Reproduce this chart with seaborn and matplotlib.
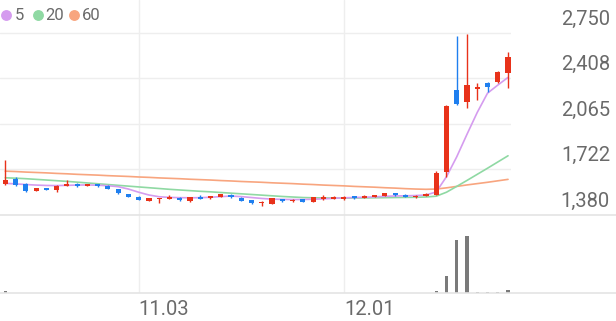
import matplotlib
matplotlib.use("Agg")
import matplotlib.pyplot as plt
from matplotlib.lines import Line2D
import numpy as np
import pandas as pd
import seaborn as sns

# ---------------- data ----------------
opens = [1613, 1649, 1611, 1561, 1578, 1566, 1598, 1611, 1596, 1608,
         1598, 1573, 1533, 1513, 1485, 1498, 1500, 1508, 1480, 1513,
         1505, 1513, 1530, 1508, 1490, 1463, 1460, 1498, 1480, 1495,
         1473, 1495, 1498, 1498, 1520, 1508, 1515, 1518, 1540, 1530,
         1510, 1520, 1530, 1698, 2321, 2230, 2326, 2371, 2381, 2446]
highs = [1794, 1664, 1614, 1580, 1581, 1600, 1641, 1614, 1611, 1611,
         1600, 1576, 1536, 1516, 1508, 1508, 1525, 1510, 1512, 1530,
         1520, 1538, 1533, 1510, 1493, 1483, 1505, 1500, 1496, 1497,
         1512, 1530, 1520, 1518, 1523, 1528, 1528, 1545, 1543, 1532,
         1525, 1540, 1706, 2205, 2727, 2740, 2374, 2376, 2464, 2609]
lows = [1606, 1598, 1553, 1558, 1563, 1553, 1595, 1590, 1593, 1590,
        1573, 1537, 1512, 1490, 1483, 1465, 1495, 1485, 1478, 1495,
        1495, 1510, 1508, 1483, 1462, 1442, 1458, 1478, 1478, 1476,
        1471, 1493, 1496, 1490, 1500, 1505, 1513, 1516, 1523, 1510,
        1508, 1518, 1528, 1661, 2206, 2183, 2243, 2301, 2375, 2334]
closes = [1643, 1604, 1561, 1578, 1566, 1598, 1611, 1593, 1608, 1593,
          1576, 1540, 1515, 1493, 1506, 1506, 1515, 1488, 1510, 1498,
          1518, 1536, 1510, 1485, 1465, 1473, 1503, 1480, 1493, 1478,
          1510, 1510, 1513, 1513, 1503, 1523, 1525, 1543, 1525, 1513,
          1523, 1538, 1691, 2200, 2213, 2358, 2338, 2343, 2457, 2571]
volumes = [250000, 40000, 40000, 30000, 30000, 30000, 40000, 30000, 30000, 30000,
           30000, 30000, 30000, 30000, 30000, 30000, 30000, 30000, 30000, 30000,
           30000, 30000, 30000, 30000, 30000, 30000, 30000, 30000, 30000, 30000,
           30000, 30000, 30000, 30000, 30000, 30000, 30000, 30000, 30000, 30000,
           30000, 30000, 200000, 1800000, 5400000, 5800000, 150000, 100000, 100000, 340000]
ma5 = [1615, 1611, 1606, 1602, 1599, 1598, 1600, 1602, 1603, 1601,
       1597, 1590, 1572, 1548, 1527, 1514, 1509, 1507, 1506, 1507,
       1510, 1515, 1519, 1515, 1508, 1501, 1496, 1494, 1493, 1493,
       1495, 1498, 1502, 1506, 1508, 1510, 1513, 1517, 1520, 1521,
       1523, 1527, 1550, 1665, 1815, 1985, 2150, 2295, 2356, 2414]
ma20 = [1657, 1654, 1650, 1645, 1640, 1635, 1630, 1624, 1618, 1612,
        1606, 1600, 1594, 1588, 1582, 1576, 1570, 1565, 1560, 1555,
        1551, 1546, 1541, 1536, 1531, 1526, 1521, 1516, 1512, 1508,
        1506, 1505, 1504, 1504, 1504, 1505, 1506, 1507, 1508, 1509,
        1510, 1512, 1518, 1548, 1592, 1637, 1683, 1729, 1776, 1823]
ma60 = [1707, 1704, 1700, 1697, 1694, 1690, 1687, 1683, 1680, 1677,
        1673, 1670, 1667, 1663, 1660, 1656, 1653, 1650, 1646, 1643,
        1640, 1636, 1633, 1629, 1626, 1623, 1619, 1616, 1613, 1609,
        1606, 1602, 1599, 1596, 1592, 1589, 1586, 1582, 1579, 1575,
        1572, 1570, 1572, 1581, 1592, 1603, 1613, 1623, 1634, 1645]
price_ticks = [1380, 1722, 2065, 2408, 2750]
price_tick_labels = ["1,380", "1,722", "2,065", "2,408", "2,750"]
date_tick_pos = [13, 33]
date_tick_labels = ["11.03", "12.01"]
ma_names = ["5", "20", "60"]

# ---------------- style ----------------
sns.set_theme(style="white")
plt.rcParams["font.family"] = ["Roboto", "DejaVu Sans"]

RED = "#e8321a"
BLUE = "#1f7fef"
MA_COLORS = ["#d59cef", "#8fd9a3", "#f8a57f"]
TXT = "#6a6a6a"
GRID = "#eeeeee"
SEP = "#e4e4e4"

W, H = 616, 321
fig = plt.figure(figsize=(W / 100, H / 100), dpi=100)
fig.patch.set_facecolor("white")

def fy(py):
    return 1 - py / H

price_bottom_px = 214.5
vol_bottom_px = 293.3
right_px = 511

ax1 = fig.add_axes([0, fy(price_bottom_px), right_px / W, price_bottom_px / H])
ax2 = fig.add_axes([0, fy(vol_bottom_px), right_px / W, (vol_bottom_px - price_bottom_px) / H])

idx = np.arange(len(closes))
df = pd.DataFrame({"idx": idx, "open": opens, "high": highs, "low": lows,
                   "close": closes, "volume": volumes,
                   "ma5": ma5, "ma20": ma20, "ma60": ma60})

xlim = (-0.517, 49.29)
ylim = (1380, 2998)

for ax in (ax1, ax2):
    ax.set_xlim(*xlim)
    ax.set_facecolor("none")
    for s in ax.spines.values():
        s.set_visible(False)
    ax.tick_params(length=0)
    for xv in date_tick_pos:
        ax.axvline(xv, color=GRID, lw=1.0, zorder=0)

ax1.set_ylim(*ylim)
for v in price_ticks[1:]:
    ax1.axhline(v, color=GRID, lw=1.0, zorder=0)

# moving averages
for col, c in zip(["ma60", "ma20", "ma5"], MA_COLORS[::-1]):
    sns.lineplot(data=df, x="idx", y=col, ax=ax1, color=c, lw=1.2, zorder=2)

# candles
min_h = (ylim[1] - ylim[0]) / price_bottom_px * 1.3
for i, o, h, l, c in zip(idx, opens, highs, lows, closes):
    col = RED if c >= o else BLUE
    ax1.vlines(i, l, h, color=col, lw=1.0, zorder=3)
    bh = max(abs(c - o), min_h)
    ax1.bar(i, bh, bottom=min(o, c), width=0.5, color=col, lw=0, zorder=4)

# volume
ax2.bar(df["idx"], df["volume"], width=0.3, color="#7a7a7a", lw=0, zorder=3)
ax2.set_ylim(0, 8.0e6)

ax1.set_xticks([])
ax1.set_yticks([])
ax1.set_xlabel("")
ax1.set_ylabel("")
ax2.set_yticks([])
ax2.set_xlabel("")
ax2.set_ylabel("")
ax2.set_xticks(date_tick_pos)
ax2.set_xticklabels(date_tick_labels, fontsize=14.5, color=TXT, ha="left")
ax2.tick_params(axis="x", pad=5)

# price labels (right side, above gridline)
for v, lab in zip(price_ticks, price_tick_labels):
    ax1.annotate(lab, xy=(610 / W, v), xycoords=("figure fraction", "data"),
                 xytext=(0, 9.6), textcoords="offset points",
                 ha="right", va="center", fontsize=14.5, color=TXT)

# separators
for py in (price_bottom_px, vol_bottom_px):
    fig.add_artist(Line2D([0, 1], [fy(py), fy(py)], transform=fig.transFigure,
                          color=SEP, lw=1.2))

# legend
leg_y = fy(15)
dot_x = [6, 37.5, 74]
txt_x = [15.0, 45.5, 82.0]
for name, c, dx, tx in zip(ma_names, MA_COLORS, dot_x, txt_x):
    fig.add_artist(Line2D([dx / W], [leg_y], transform=fig.transFigure,
                          marker="o", markersize=6.8, color=c, lw=0))
    fig.text(tx / W, leg_y, name, ha="left", va="center", fontsize=12, color=TXT)

fig.savefig("out.png", dpi=100, facecolor="white")
